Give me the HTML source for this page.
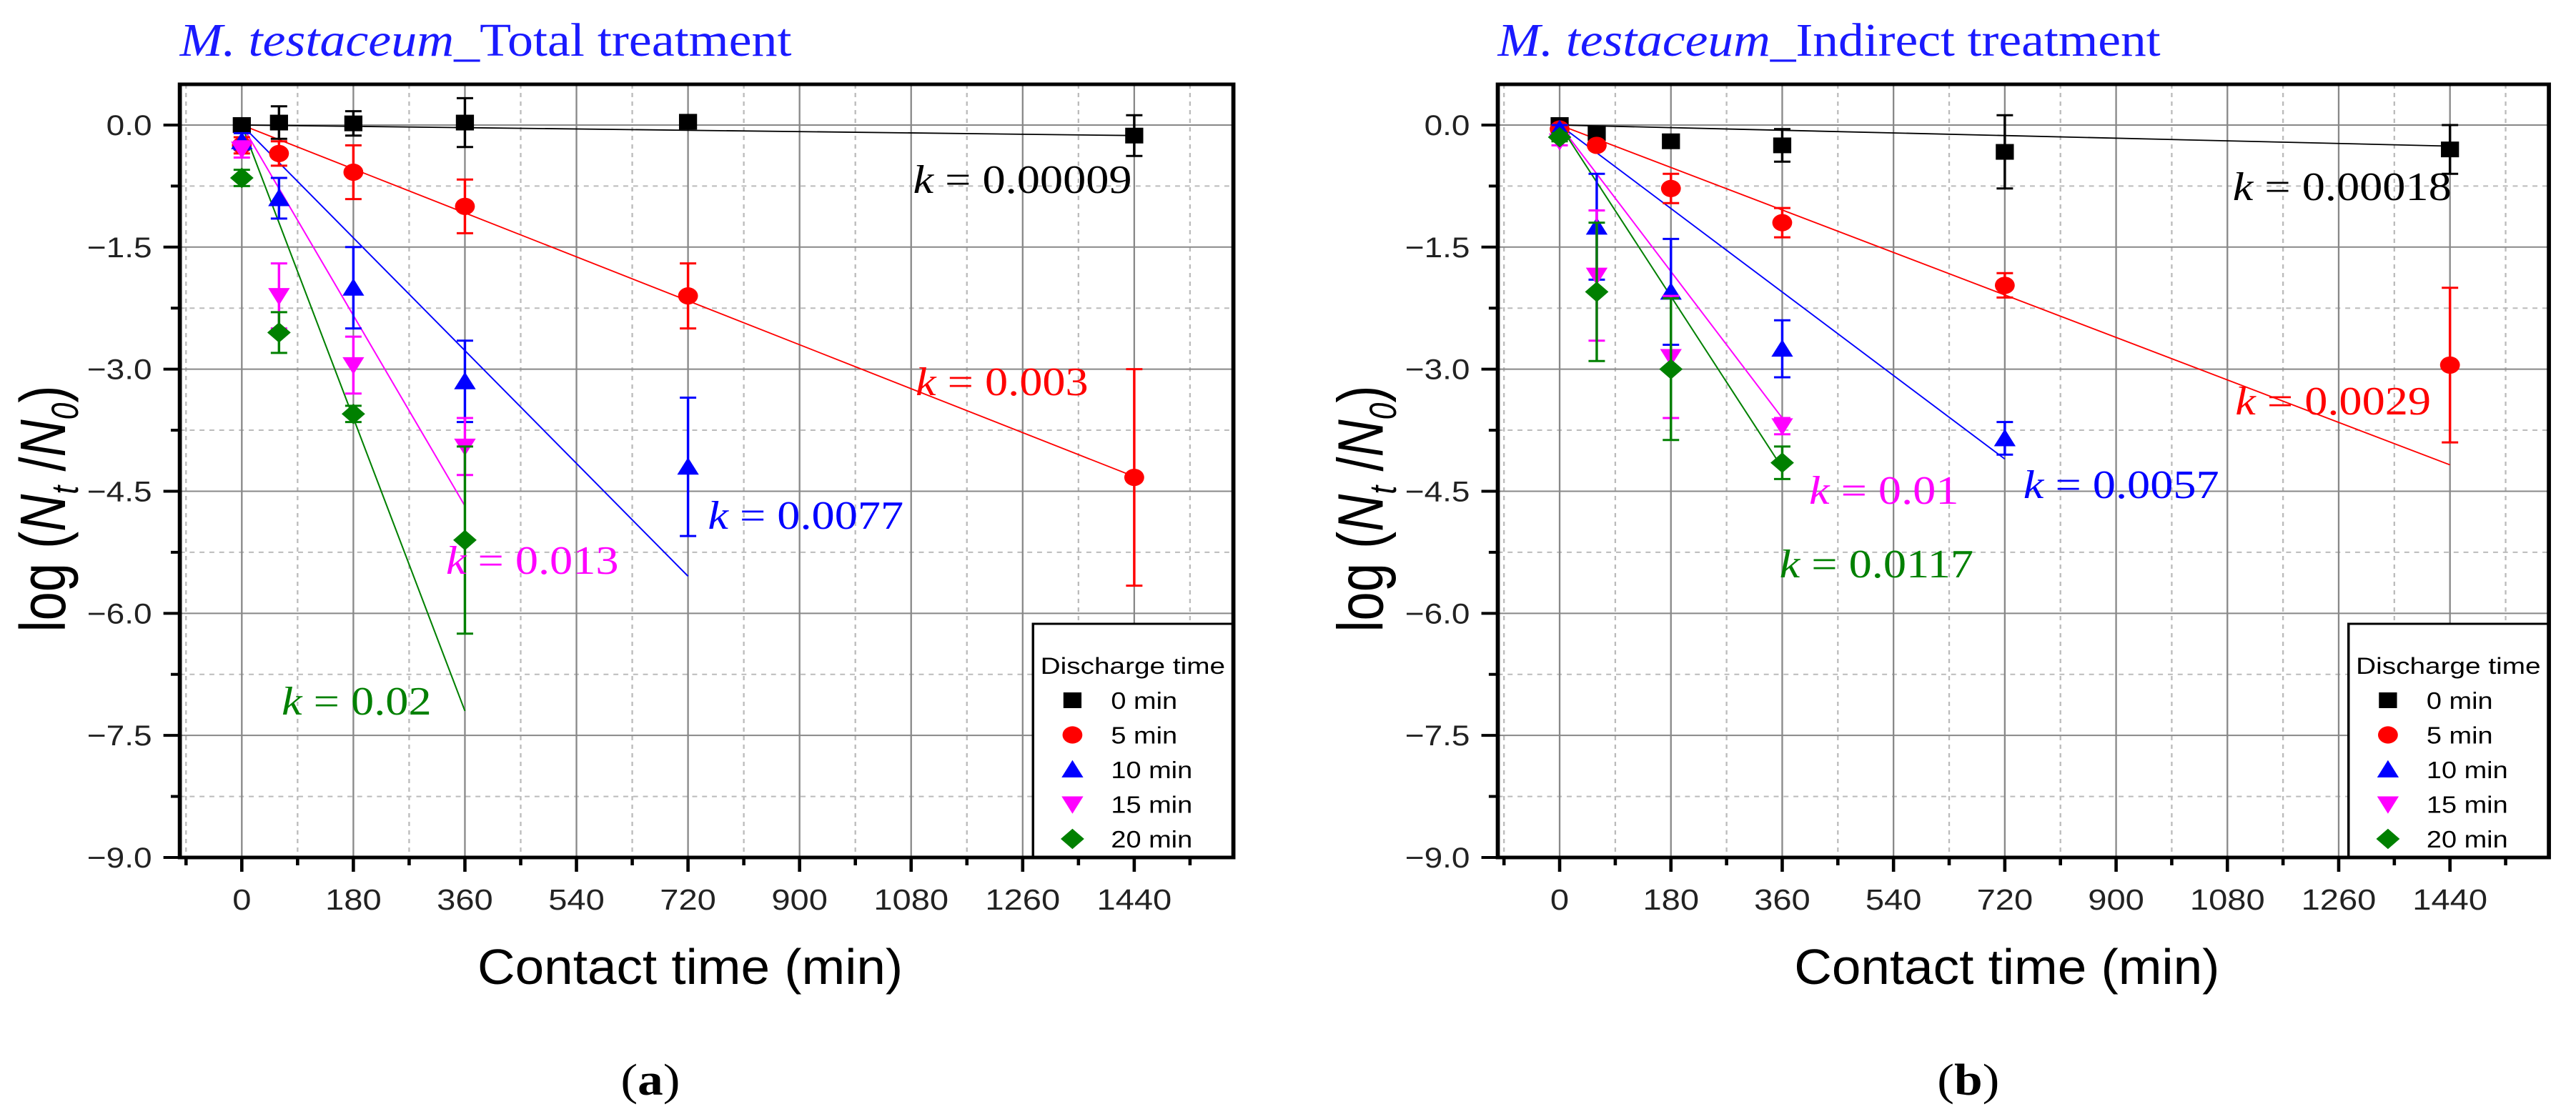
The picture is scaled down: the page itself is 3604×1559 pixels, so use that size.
<!DOCTYPE html>
<html><head><meta charset="utf-8">
<style>
html,body{margin:0;padding:0;background:#fff;}
svg{display:block;}
</style></head>
<body>
<svg id="fig" width="3604" height="1559" viewBox="0 0 3137 1559" preserveAspectRatio="none" xmlns="http://www.w3.org/2000/svg"></svg>
<script>
// ---- data (panel a: Total treatment) ----
const timesA = [0, 60, 180, 360, 720, 1440];
const a0 = [0, 0.03, 0.02, 0.03, 0.04, -0.13];
const a0err = [0.05, 0.2, 0.15, 0.3, 0.05, 0.25];
const a5 = [-0.25, -0.35, -0.58, -1.0, -2.1, -4.33];
const a5err = [0.1, 0.15, 0.33, 0.33, 0.4, 1.33];
const a10 = [-0.2, -0.9, -2.0, -3.15, -4.2];
const a10err = [0.1, 0.25, 0.5, 0.5, 0.85];
const a15 = [-0.3, -2.1, -2.95, -3.95];
const a15err = [0.1, 0.4, 0.35, 0.35];
const a20 = [-0.65, -2.55, -3.55, -5.1];
const a20err = [0.1, 0.25, 0.1, 1.15];
const kA = [0.00009, 0.003, 0.0077, 0.013, 0.02];
// ---- data (panel b: Indirect treatment) ----
const timesB = [0, 60, 180, 360, 720, 1440];
const b0 = [0, -0.1, -0.2, -0.25, -0.33, -0.3];
const b0err = [0.03, 0.05, 0.05, 0.2, 0.45, 0.3];
const b5 = [-0.05, -0.25, -0.78, -1.2, -1.97, -2.95];
const b5err = [0.05, 0.05, 0.18, 0.18, 0.15, 0.95];
const b10 = [-0.05, -1.25, -2.05, -2.75, -3.85];
const b10err = [0.05, 0.65, 0.65, 0.35, 0.2];
const b15 = [-0.2, -1.85, -2.85, -3.7];
const b15err = [0.05, 0.8, 0.75, 0.1];
const b20 = [-0.15, -2.05, -3.0, -4.15];
const b20err = [0.05, 0.85, 0.87, 0.2];
const kB = [0.00018, 0.0029, 0.0057, 0.01, 0.0117];
const seriesNames = ["0 min", "5 min", "10 min", "15 min", "20 min"];
const xTicks = [0, 180, 360, 540, 720, 900, 1080, 1260, 1440];
const yTicks = [0, -1.5, -3, -4.5, -6, -7.5, -9];

const NS = "http://www.w3.org/2000/svg";
const svg = document.getElementById("fig");
function el(tag, attrs, parent, text) {
  const e = document.createElementNS(NS, tag);
  for (const k in attrs) e.setAttribute(k, attrs[k]);
  if (text !== undefined) e.textContent = text;
  (parent || svg).appendChild(e);
  return e;
}
const colors = ["#000000", "#ff0000", "#0000ff", "#ff00ff", "#008000"];
const shapes = ["square", "circle", "up", "down", "diamond"];

function marker(g, shape, cx, cy, color, s) {
  let m;
  if (shape === "square") m = el("rect", {x: cx - s, y: cy - s, width: 2 * s, height: 2 * s, fill: color}, g);
  else if (shape === "circle") m = el("circle", {cx: cx, cy: cy, r: s * 1.1, fill: color}, g);
  else if (shape === "up") m = el("polygon", {points: `${cx},${cy - s * 1.2} ${cx + s * 1.2},${cy + s} ${cx - s * 1.2},${cy + s}`, fill: color}, g);
  else if (shape === "down") m = el("polygon", {points: `${cx},${cy + s * 1.2} ${cx + s * 1.2},${cy - s} ${cx - s * 1.2},${cy - s}`, fill: color}, g);
  else m = el("polygon", {points: `${cx},${cy - s * 1.3} ${cx + s * 1.3},${cy} ${cx},${cy + s * 1.3} ${cx - s * 1.3},${cy}`, fill: color}, g);
  return m;
}

function panel(cfg) {
  const L = cfg.left, R = cfg.right, T = 118, B = 1200;
  const xmin = -100, xmax = 1600, ymin = -9, ymax = 0.5;
  const X = v => L + (v - xmin) / (xmax - xmin) * (R - L);
  const Y = v => B - (v - ymin) / (ymax - ymin) * (B - T);
  const g = el("g", {});
  
  

  const t = el("text", {x: L, y: 78, "font-family": "Liberation Serif, serif", "font-size": 66, fill: "#1a1aff", textLength: cfg.titleLen, lengthAdjust: "spacingAndGlyphs"}, g);
  
  
  el("tspan", {"font-style": "italic"}, t, "M. testaceum");
  el("tspan", {}, t, "_" + cfg.title);

  const grid = el("g", {}, g);
  
  
  for (let v = -90; v < xmax; v += 180) el("line", {x1: X(v), x2: X(v), y1: T, y2: B, stroke: "#bbbbbb", "stroke-width": 2, "stroke-dasharray": "6 6"}, grid);
  for (let v = -8.25; v < ymax; v += 1.5) el("line", {x1: L, x2: R, y1: Y(v), y2: Y(v), stroke: "#bbbbbb", "stroke-width": 2, "stroke-dasharray": "6 6"}, grid);
  xTicks.forEach(v => el("line", {x1: X(v), x2: X(v), y1: T, y2: B, stroke: "#888888", "stroke-width": 2}, grid));
  yTicks.forEach(v => el("line", {x1: L, x2: R, y1: Y(v), y2: Y(v), stroke: "#888888", "stroke-width": 2}, grid));

  const xa = el("g", {}, g);
  
  
  for (let v = -90; v < xmax; v += 90) {
    const major = (v % 180 === 0);
    el("line", {x1: X(v), x2: X(v), y1: B, y2: B + (major ? 20 : 11), stroke: "#000", "stroke-width": 4}, xa);
  }
  xTicks.forEach(v => {
    const tl = el("text", {x: X(v), y: 1273, "text-anchor": "middle", "font-family": "Liberation Sans, sans-serif", "font-size": 41, fill: "#222"}, xa, String(v));
    
    
  });
  const xt = el("text", {x: (L + R) / 2 - 20, y: 1377, "text-anchor": "middle", "font-family": "Liberation Sans, sans-serif", "font-size": 70, fill: "#000", textLength: 518, lengthAdjust: "spacingAndGlyphs"}, xa, "Contact time (min)");
  
  

  const ya = el("g", {}, g);
  
  
  for (let v = -9; v <= 0.01; v += 0.75) {
    const major = Math.abs((v / 1.5) - Math.round(v / 1.5)) < 1e-6;
    el("line", {x1: L, x2: L - (major ? 20 : 11), y1: Y(v), y2: Y(v), stroke: "#000", "stroke-width": 4}, ya);
  }
  yTicks.forEach(v => {
    const s = (v === 0 ? "0.0" : "\u2212" + Math.abs(v).toFixed(1));
    const tl = el("text", {x: L - 34, y: Y(v) + 14, "text-anchor": "end", "font-family": "Liberation Sans, sans-serif", "font-size": 40, fill: "#222"}, ya, s);
    
    
  });
  const cy = 712, cx = L - 140;
  const yt = el("text", {x: cx, y: cy, transform: `rotate(-90 ${cx} ${cy})`, "text-anchor": "middle", "font-family": "Liberation Sans, sans-serif", "font-size": 78, fill: "#000", textLength: 345, lengthAdjust: "spacingAndGlyphs"}, ya);
  
  
  el("tspan", {}, yt, "log (");
  el("tspan", {"font-style": "italic"}, yt, "N");
  el("tspan", {"font-style": "italic", "font-size": 46, dy: 16}, yt, "t");
  el("tspan", {dy: -16}, yt, " /");
  el("tspan", {"font-style": "italic"}, yt, "N");
  el("tspan", {"font-style": "italic", "font-size": 46, dy: 16}, yt, "0");
  el("tspan", {dy: -16}, yt, ")");

  cfg.series.forEach((ys, i) => {
    const tl = cfg.times[ys.length - 1];
    const ln = el("line", {x1: X(0), y1: Y(0), x2: X(tl), y2: Y(-cfg.k[i] * tl), stroke: colors[i], "stroke-width": 1.8}, g);
    
    
  });
  cfg.series.forEach((ys, i) => {
    const sg = el("g", {}, g);
    
    
    ys.forEach((v, j) => {
      const x = X(cfg.times[j]), e = cfg.errs[i][j];
      el("line", {x1: x, x2: x, y1: Y(v + e), y2: Y(v - e), stroke: colors[i], "stroke-width": 3}, sg);
      el("line", {x1: x - 10, x2: x + 10, y1: Y(v + e), y2: Y(v + e), stroke: colors[i], "stroke-width": 3}, sg);
      el("line", {x1: x - 10, x2: x + 10, y1: Y(v - e), y2: Y(v - e), stroke: colors[i], "stroke-width": 3}, sg);
    });
    ys.forEach((v, j) => {
      const m = marker(sg, shapes[i], X(cfg.times[j]), Y(v), colors[i], 11);
      
      
    });
  });

  cfg.kpos.forEach((p, i) => {
    const kt = el("text", {x: p[0], y: p[1], "font-family": "Liberation Serif, serif", "font-size": 56, fill: colors[i]}, g);
    
    
    el("tspan", {"font-style": "italic"}, kt, "k");
    el("tspan", {}, kt, " = " + cfg.k[i]);
  });

  const lg = el("g", {}, g);
  
  
  const lx = R - 244;
  el("rect", {x: lx, y: 873, width: 244, height: B - 873, fill: "#fff", stroke: "#000", "stroke-width": 3}, lg);
  el("text", {x: lx + 9, y: 943, "font-family": "Liberation Sans, sans-serif", "font-size": 32, fill: "#000", textLength: 225, lengthAdjust: "spacingAndGlyphs"}, lg, "Discharge time");
  seriesNames.forEach((n, i) => {
    const yy = 980 + i * 48.5;
    const ent = el("g", {}, lg);
    
    
    marker(ent, shapes[i], lx + 48, yy, colors[i], 11);
    el("text", {x: lx + 95, y: yy + 12, "font-family": "Liberation Sans, sans-serif", "font-size": 33, fill: "#000"}, ent, n);
  });

  const fr = el("rect", {x: L, y: T, width: R - L, height: B - T, fill: "none", stroke: "#000", "stroke-width": 5}, g);
  
  

  const cap = el("text", {x: cfg.capX, y: 1532, "text-anchor": "middle", "font-family": "Liberation Serif, serif", "font-size": 62, fill: "#000"}, g);
  
  
  el("tspan", {}, cap, "(");
  el("tspan", {"font-weight": "bold"}, cap, cfg.letter);
  el("tspan", {}, cap, ")");
}

panel({name: "panel-a-total", left: 219, right: 1502, title: "Total treatment", titleLen: 745,
  times: timesA, series: [a0, a5, a10, a15, a20], errs: [a0err, a5err, a10err, a15err, a20err], k: kA,
  kpos: [[1112, 270], [1115, 553], [862, 740], [543, 803], [343, 1000]], capX: 792, letter: "a"});
panel({name: "panel-b-indirect", left: 1824, right: 3104, title: "Indirect treatment", titleLen: 807,
  times: timesB, series: [b0, b5, b10, b15, b20], errs: [b0err, b5err, b10err, b15err, b20err], k: kB,
  kpos: [[2719, 280], [2722, 580], [2464, 697], [2203, 705], [2167, 808]], capX: 2397, letter: "b"});
</script>
</body></html>
